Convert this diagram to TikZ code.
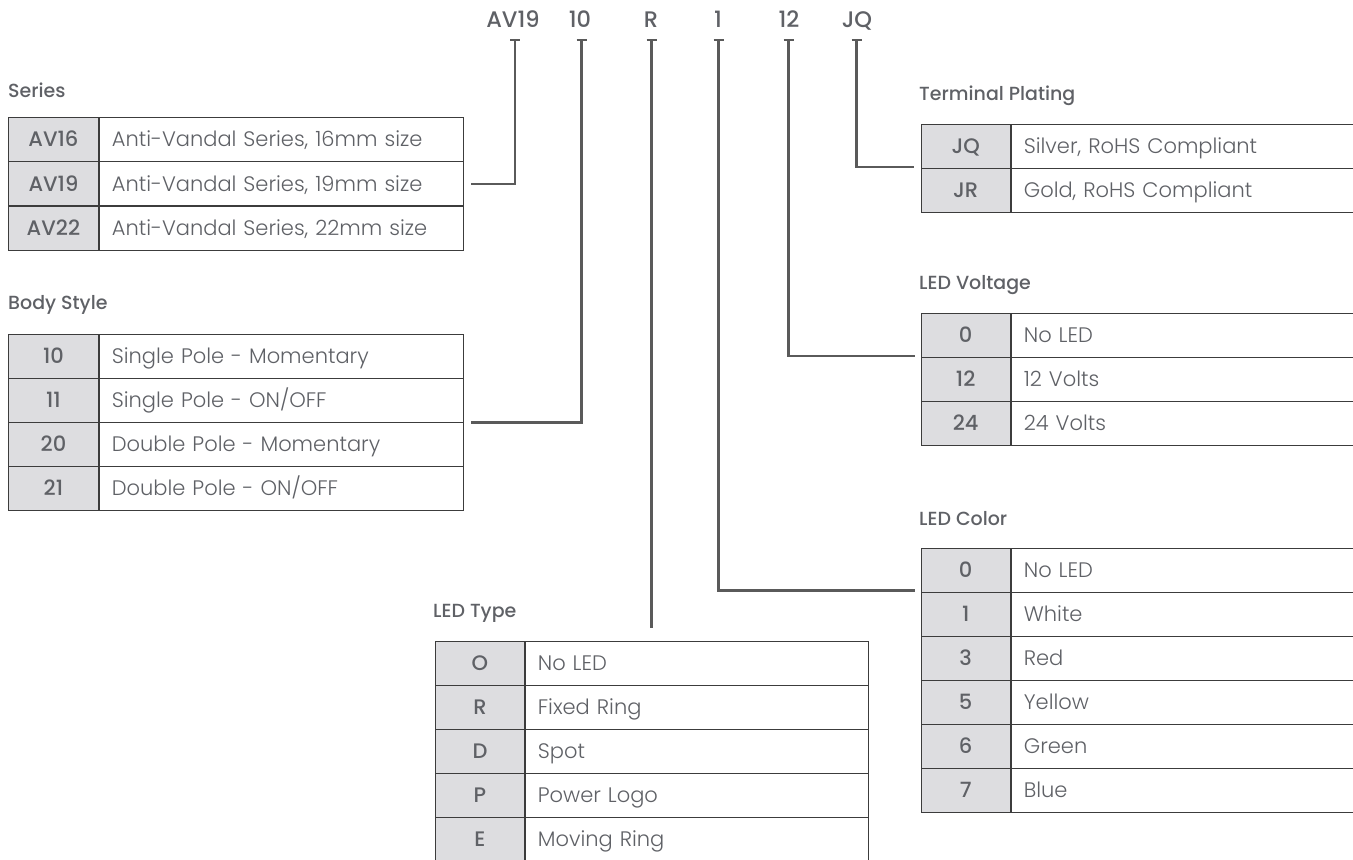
\documentclass[tikz,border=0pt]{standalone}
\usepackage{fontspec}
\setmainfont{Poppins}[BoldFont={Poppins Medium}]
\newfontfamily\lightfont{Poppins Light}
\definecolor{txtcol}{HTML}{5F6166}
\definecolor{codefill}{HTML}{DDDDE0}
\definecolor{bordercol}{HTML}{3C3C3C}
\definecolor{conncol}{HTML}{5A5A5A}
\newcommand\optrow[7]{%
  \node[cellcode=#4] (#1c) at (#2,#3) {#6};
  \node[celldesc=#5] (#1d) at (#1c.north east) {#7};
}
\begin{document}
\begin{tikzpicture}[x=1pt,y=-1pt,
  cellcode/.style={draw=bordercol, line width=0.9pt, fill=codefill, minimum width=#1,
    minimum height=44pt, inner sep=0pt, anchor=north west, text=txtcol,
    font=\fontsize{21}{23}\selectfont\bfseries, text height=14.6pt, text depth=0pt},
  celldesc/.style={draw=bordercol, line width=0.9pt, fill=white, text width=#1,
    align=left, inner xsep=12.5pt, inner ysep=0pt, minimum height=44pt,
    anchor=north west, text=txtcol, font=\fontsize{21}{23}\selectfont\lightfont,
    text height=14.6pt, text depth=0pt},
  titlestyle/.style={anchor=base west, inner sep=0pt, text=txtcol,
    font=\fontsize{19}{21}\selectfont\bfseries},
  toplab/.style={anchor=base, inner sep=0pt, text=txtcol,
    font=\fontsize{22.5}{24}\selectfont\bfseries},
  conn/.style={draw=conncol, line width=2.4pt},
]
\useasboundingbox (0,0) rectangle (1353,860);

% top code labels
\node[toplab] (kA) at (513,27) {AV19};
\node[toplab] (kB) at (580,27) {10};
\node[toplab] (kC) at (651,27) {R};
\node[toplab] (kD) at (718,27) {1};
\node[toplab] (kE) at (789,27) {12};
\node[toplab] (kF) at (857,27) {JQ};
\coordinate (t1) at (515,40);
\coordinate (t2) at (581.5,40);
\coordinate (t3) at (651.5,40);
\coordinate (t4) at (718.5,40);
\coordinate (t5) at (788.5,40);
\coordinate (t6) at (856.5,40);
\foreach \t in {t1,t2,t3,t4,t5,t6}{
  \draw[conn] ([xshift=-5pt]\t) -- ([xshift=5pt]\t);
}

% Series
\node[titlestyle] (hS) at (8,97) {Series};
\optrow{s1}{8}{117}{90}{339}{AV16}{Anti-Vandal Series, 16mm size}
\optrow{s2}{8}{161.3}{90}{339}{AV19}{Anti-Vandal Series, 19mm size}
\optrow{s3}{8}{205.6}{90}{339}{AV22}{Anti-Vandal Series, 22mm size}

% Body Style
\node[titlestyle] (hB) at (8,309) {Body Style};
\optrow{b1}{8}{333.5}{90}{339}{10}{Single Pole - Momentary}
\optrow{b2}{8}{377.5}{90}{339}{11}{Single Pole - ON/OFF}
\optrow{b3}{8}{421.5}{90}{339}{20}{Double Pole - Momentary}
\optrow{b4}{8}{465.5}{90}{339}{21}{Double Pole - ON/OFF}

% LED Type
\node[titlestyle] (hT) at (433,617) {LED Type};
\optrow{l1}{435}{640.5}{89}{318}{O}{No LED}
\optrow{l2}{435}{684.5}{89}{318}{R}{Fixed Ring}
\optrow{l3}{435}{728.5}{89}{318}{D}{Spot}
\optrow{l4}{435}{772.5}{89}{318}{P}{Power Logo}
\optrow{l5}{435}{816.5}{89}{318}{E}{Moving Ring}

% Terminal Plating
\node[titlestyle] (hP) at (919,100) {Terminal Plating};
\optrow{p1}{920.5}{123.5}{89.5}{317}{JQ}{Silver, RoHS Compliant}
\optrow{p2}{920.5}{167.5}{89.5}{317}{JR}{Gold, RoHS Compliant}

% LED Voltage
\node[titlestyle] (hV) at (919,289) {LED Voltage};
\optrow{v1}{920.5}{312.5}{89.5}{317}{0}{No LED}
\optrow{v2}{920.5}{356.5}{89.5}{317}{12}{12 Volts}
\optrow{v3}{920.5}{400.5}{89.5}{317}{24}{24 Volts}

% LED Color
\node[titlestyle] (hC) at (919,525) {LED Color};
\optrow{c1}{920.5}{547.5}{89.5}{317}{0}{No LED}
\optrow{c2}{920.5}{591.5}{89.5}{317}{1}{White}
\optrow{c3}{920.5}{635.5}{89.5}{317}{3}{Red}
\optrow{c4}{920.5}{679.5}{89.5}{317}{5}{Yellow}
\optrow{c5}{920.5}{723.5}{89.5}{317}{6}{Green}
\optrow{c6}{920.5}{767.5}{89.5}{317}{7}{Blue}

% connectors
\draw[conn] (t1) |- ([xshift=7pt]s2d.east);
\draw[conn] (t2) |- ([xshift=7pt]b2d.south east);
\coordinate (ltop) at ([yshift=13pt]l1d.north);
\draw[conn] (t3) -- (t3 |- ltop);
\draw[conn] (t4) |- ([xshift=-6pt,yshift=2pt]c1c.south west);
\draw[conn] (t5) |- ([xshift=-6pt,yshift=1.5pt]v1c.south west);
\draw[conn] (t6) |- ([xshift=-7pt,yshift=1.5pt]p1c.south west);
\end{tikzpicture}
\end{document}
